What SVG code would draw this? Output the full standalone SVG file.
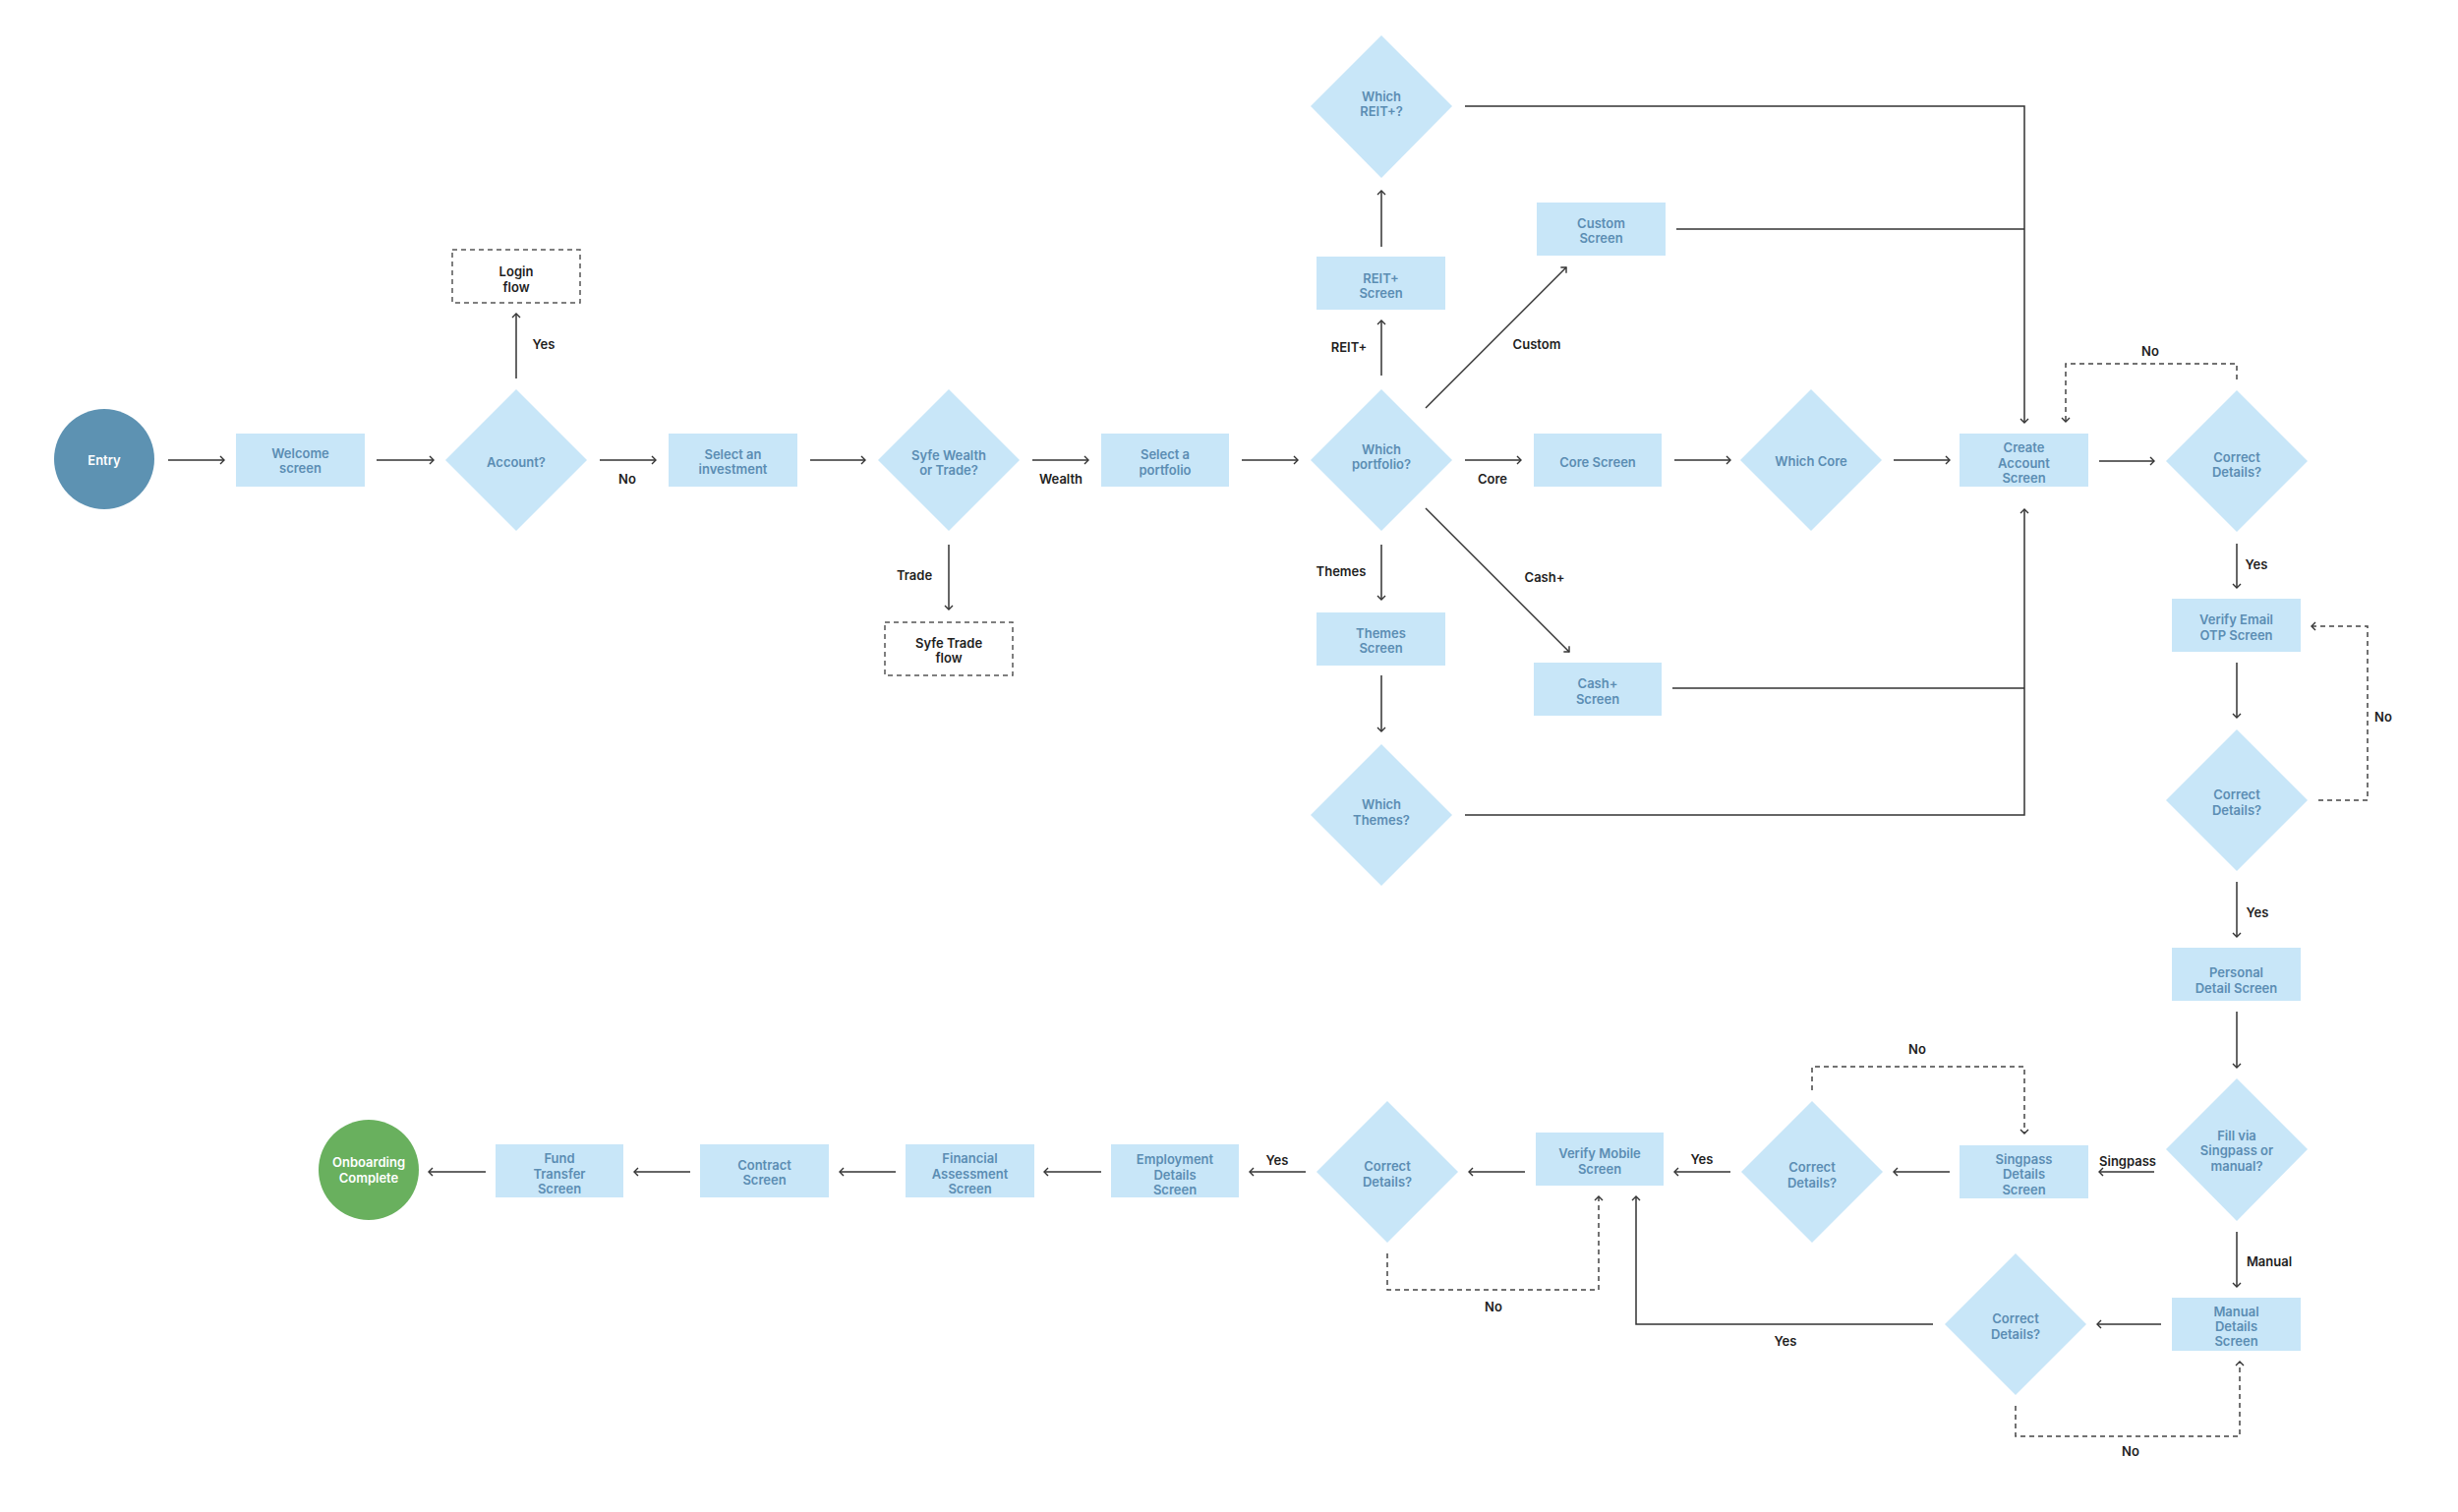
<svg xmlns="http://www.w3.org/2000/svg" width="2500" height="1538" viewBox="0 0 2500 1538">
<style>
.box{fill:#c8e6f8}
.dia{fill:#c8e6f8}
.dash{fill:none;stroke:#555;stroke-width:1.5;stroke-dasharray:5 4}
.nt{font-family:Inter,"Liberation Sans",sans-serif;font-size:13px;font-weight:600;fill:#5b8db3;text-anchor:middle}
.dt{font-family:Inter,"Liberation Sans",sans-serif;font-size:13px;font-weight:600;fill:#1e1e1e;text-anchor:middle}
.wt{font-family:Inter,"Liberation Sans",sans-serif;font-size:13px;font-weight:600;fill:#ffffff;text-anchor:middle}
.lt{font-family:Inter,"Liberation Sans",sans-serif;font-size:13px;font-weight:600;fill:#1e1e1e;text-anchor:middle}
.c{fill:none;stroke:#333;stroke-width:1.5}
.cd{fill:none;stroke:#444;stroke-width:1.5;stroke-dasharray:5 4}
</style>
<defs>
<marker id="arr" viewBox="0 0 10 10" refX="9" refY="5" markerWidth="10" markerHeight="10" markerUnits="userSpaceOnUse" orient="auto">
<path d="M5,1 L9,5 L5,9" fill="none" stroke="#333" stroke-width="1.4"/>
</marker>
</defs>
<rect width="2500" height="1538" fill="#ffffff"/>

<g id="connectors">
<path class="c" marker-end="url(#arr)" d="M171,468 L228,468"/>
<path class="c" marker-end="url(#arr)" d="M383,468 L441,468"/>
<path class="c" marker-end="url(#arr)" d="M525,385 L525,319"/>
<path class="c" marker-end="url(#arr)" d="M610,468 L667,468"/>
<path class="c" marker-end="url(#arr)" d="M824,468 L880,468"/>
<path class="c" marker-end="url(#arr)" d="M965,554 L965,620"/>
<path class="c" marker-end="url(#arr)" d="M1050,468 L1107,468"/>
<path class="c" marker-end="url(#arr)" d="M1263,468 L1320,468"/>
<path class="c" marker-end="url(#arr)" d="M1405,382 L1405,326"/>
<path class="c" marker-end="url(#arr)" d="M1405,251 L1405,194"/>
<path class="c" marker-end="url(#arr)" d="M1450,415 L1593,272"/>
<path class="c" marker-end="url(#arr)" d="M1490,468 L1547,468"/>
<path class="c" marker-end="url(#arr)" d="M1450,517 L1596,663"/>
<path class="c" marker-end="url(#arr)" d="M1405,554 L1405,610"/>
<path class="c" marker-end="url(#arr)" d="M1405,687 L1405,744"/>
<path class="c" marker-end="url(#arr)" d="M1703,468 L1760,468"/>
<path class="c" marker-end="url(#arr)" d="M1926,468 L1983,468"/>
<path class="c" marker-end="url(#arr)" d="M1490,108 L2059,108 L2059,430"/>
<path class="c" d="M1705,233 L2059,233"/>
<path class="c" marker-end="url(#arr)" d="M1490,829 L2059,829 L2059,518"/>
<path class="c" d="M1701,700 L2059,700"/>
<path class="c" marker-end="url(#arr)" d="M2135,469 L2191,469"/>
<path class="cd" marker-end="url(#arr)" d="M2275,386 L2275,370 L2101,370 L2101,429"/>
<path class="c" marker-end="url(#arr)" d="M2275,553 L2275,598"/>
<path class="c" marker-end="url(#arr)" d="M2275,674 L2275,730"/>
<path class="cd" marker-end="url(#arr)" d="M2358,814 L2408,814 L2408,637 L2351,637"/>
<path class="c" marker-end="url(#arr)" d="M2275,897 L2275,953"/>
<path class="c" marker-end="url(#arr)" d="M2275,1029 L2275,1086"/>
<path class="c" marker-end="url(#arr)" d="M2191,1192 L2135,1192"/>
<path class="c" marker-end="url(#arr)" d="M2275,1253 L2275,1309"/>
<path class="c" marker-end="url(#arr)" d="M2198,1347 L2133,1347"/>
<path class="cd" marker-end="url(#arr)" d="M2050,1430 L2050,1461 L2278,1461 L2278,1385"/>
<path class="c" marker-end="url(#arr)" d="M1983,1192 L1926,1192"/>
<path class="cd" marker-end="url(#arr)" d="M1843,1109 L1843,1085 L2059,1085 L2059,1153"/>
<path class="c" marker-end="url(#arr)" d="M1760,1192 L1703,1192"/>
<path class="c" marker-end="url(#arr)" d="M1966,1347 L1664,1347 L1664,1217"/>
<path class="c" marker-end="url(#arr)" d="M1551,1192 L1494,1192"/>
<path class="cd" marker-end="url(#arr)" d="M1411,1275 L1411,1312 L1626,1312 L1626,1217"/>
<path class="c" marker-end="url(#arr)" d="M1328,1192 L1271,1192"/>
<path class="c" marker-end="url(#arr)" d="M1120,1192 L1062,1192"/>
<path class="c" marker-end="url(#arr)" d="M911,1192 L854,1192"/>
<path class="c" marker-end="url(#arr)" d="M702,1192 L645,1192"/>
<path class="c" marker-end="url(#arr)" d="M494,1192 L436,1192"/>
<text class="lt" x="553" y="354.6">Yes</text>
<text class="lt" x="638" y="491.6">No</text>
<text class="lt" x="1079" y="491.6">Wealth</text>
<text class="lt" x="930" y="589.6">Trade</text>
<text class="lt" x="1372" y="357.6">REIT+</text>
<text class="lt" x="1563" y="354.6">Custom</text>
<text class="lt" x="1518" y="491.6">Core</text>
<text class="lt" x="1364" y="585.6">Themes</text>
<text class="lt" x="1571" y="591.6">Cash+</text>
<text class="lt" x="2187" y="361.6">No</text>
<text class="lt" x="2295" y="578.6">Yes</text>
<text class="lt" x="2424" y="733.6">No</text>
<text class="lt" x="2296" y="932.6">Yes</text>
<text class="lt" x="1950" y="1071.6">No</text>
<text class="lt" x="2164" y="1185.6">Singpass</text>
<text class="lt" x="2308" y="1287.6">Manual</text>
<text class="lt" x="2167" y="1480.6">No</text>
<text class="lt" x="1731" y="1183.6">Yes</text>
<text class="lt" x="1519" y="1333.6">No</text>
<text class="lt" x="1816" y="1368.6">Yes</text>
<text class="lt" x="1299" y="1184.6">Yes</text>
</g>

<g id="entry"><circle cx="106" cy="467" r="51" fill="#5d92b2"/><text class="wt" x="106" y="472.6">Entry</text></g>
<g id="welcome"><rect class="box" x="240" y="441" width="131" height="54"/><text class="nt" x="305.5" y="466">Welcome<tspan x="305.5" dy="15.3">screen</tspan></text></g>
<g id="account"><polygon class="dia" points="525,396 597,468 525,540 453,468"/><text class="nt" x="525" y="474.6">Account?</text></g>
<g id="login"><rect class="dash" x="460" y="254" width="130" height="54"/><text class="dt" x="525" y="281.2">Login<tspan x="525" dy="15.3">flow</tspan></text></g>
<g id="select-investment"><rect class="box" x="680" y="441" width="131" height="54"/><text class="nt" x="745.5" y="466.8">Select an<tspan x="745.5" dy="15.3">investment</tspan></text></g>
<g id="wealth-or-trade"><polygon class="dia" points="965,396 1037,468 965,540 893,468"/><text class="nt" x="965" y="467.6">Syfe Wealth<tspan x="965" dy="15.3">or Trade?</tspan></text></g>
<g id="trade-flow"><rect class="dash" x="900" y="633" width="130" height="54"/><text class="dt" x="965" y="658.9">Syfe Trade<tspan x="965" dy="15.3">flow</tspan></text></g>
<g id="select-portfolio"><rect class="box" x="1120" y="441" width="130" height="54"/><text class="nt" x="1185" y="467.3">Select a<tspan x="1185" dy="15.3">portfolio</tspan></text></g>
<g id="which-portfolio"><polygon class="dia" points="1405,396 1477,468 1405,540 1333,468"/><text class="nt" x="1405" y="462.1">Which<tspan x="1405" dy="15.3">portfolio?</tspan></text></g>
<g id="reit-screen"><rect class="box" x="1339" y="261" width="131" height="54"/><text class="nt" x="1404.5" y="287.6">REIT+<tspan x="1404.5" dy="15.3">Screen</tspan></text></g>
<g id="which-reit"><polygon class="dia" points="1405,36 1477,108 1405,181 1333,108"/><text class="nt" x="1405" y="102.9">Which<tspan x="1405" dy="15.3">REIT+?</tspan></text></g>
<g id="custom-screen"><rect class="box" x="1563" y="206" width="131" height="54"/><text class="nt" x="1628.5" y="231.9">Custom<tspan x="1628.5" dy="15.3">Screen</tspan></text></g>
<g id="core-screen"><rect class="box" x="1560" y="441" width="130" height="54"/><text class="nt" x="1625" y="474.6">Core Screen</text></g>
<g id="which-core"><polygon class="dia" points="1842,396 1914,468 1842,540 1770,468"/><text class="nt" x="1842" y="474.2">Which Core</text></g>
<g id="themes-screen"><rect class="box" x="1339" y="623" width="131" height="54"/><text class="nt" x="1404.5" y="648.9">Themes<tspan x="1404.5" dy="15.3">Screen</tspan></text></g>
<g id="cash-screen"><rect class="box" x="1560" y="674" width="130" height="54"/><text class="nt" x="1625" y="700.4">Cash+<tspan x="1625" dy="15.3">Screen</tspan></text></g>
<g id="which-themes"><polygon class="dia" points="1405,757 1477,829 1405,901 1333,829"/><text class="nt" x="1405" y="823.2">Which<tspan x="1405" dy="15.3">Themes?</tspan></text></g>
<g id="create-account"><rect class="box" x="1993" y="441" width="131" height="54"/><text class="nt" x="2058.5" y="460.4">Create<tspan x="2058.5" dy="15.3">Account</tspan><tspan x="2058.5" dy="15.3">Screen</tspan></text></g>
<g id="correct-1"><polygon class="dia" points="2275,397 2347,469 2275,541 2203,469"/><text class="nt" x="2275" y="469.7">Correct<tspan x="2275" dy="15.3">Details?</tspan></text></g>
<g id="verify-email"><rect class="box" x="2209" y="609" width="131" height="54"/><text class="nt" x="2274.5" y="635.2">Verify Email<tspan x="2274.5" dy="15.3">OTP Screen</tspan></text></g>
<g id="correct-2"><polygon class="dia" points="2275,742 2347,814 2275,886 2203,814"/><text class="nt" x="2275" y="813.4">Correct<tspan x="2275" dy="15.3">Details?</tspan></text></g>
<g id="personal-detail"><rect class="box" x="2209" y="964" width="131" height="54"/><text class="nt" x="2274.5" y="994.4">Personal<tspan x="2274.5" dy="15.3">Detail Screen</tspan></text></g>
<g id="fill-via"><polygon class="dia" points="2275,1097 2347,1169 2275,1242 2203,1169"/><text class="nt" x="2275" y="1159.9">Fill via<tspan x="2275" dy="15.3">Singpass or</tspan><tspan x="2275" dy="15.3">manual?</tspan></text></g>
<g id="singpass-details"><rect class="box" x="1993" y="1165" width="131" height="54"/><text class="nt" x="2058.5" y="1184">Singpass<tspan x="2058.5" dy="15.3">Details</tspan><tspan x="2058.5" dy="15.3">Screen</tspan></text></g>
<g id="manual-details"><rect class="box" x="2209" y="1320" width="131" height="54"/><text class="nt" x="2274.5" y="1338.7">Manual<tspan x="2274.5" dy="15.3">Details</tspan><tspan x="2274.5" dy="15.3">Screen</tspan></text></g>
<g id="correct-4"><polygon class="dia" points="2050,1275 2122,1347 2050,1419 1978,1347"/><text class="nt" x="2050" y="1346.4">Correct<tspan x="2050" dy="15.3">Details?</tspan></text></g>
<g id="correct-3"><polygon class="dia" points="1843,1120 1915,1192 1843,1264 1771,1192"/><text class="nt" x="1843" y="1192.2">Correct<tspan x="1843" dy="15.3">Details?</tspan></text></g>
<g id="verify-mobile"><rect class="box" x="1562" y="1152" width="130" height="54"/><text class="nt" x="1627" y="1178.2">Verify Mobile<tspan x="1627" dy="15.3">Screen</tspan></text></g>
<g id="correct-5"><polygon class="dia" points="1411,1120 1483,1192 1411,1264 1339,1192"/><text class="nt" x="1411" y="1191.2">Correct<tspan x="1411" dy="15.3">Details?</tspan></text></g>
<g id="employment"><rect class="box" x="1130" y="1164" width="130" height="54"/><text class="nt" x="1195" y="1184.4">Employment<tspan x="1195" dy="15.3">Details</tspan><tspan x="1195" dy="15.3">Screen</tspan></text></g>
<g id="financial"><rect class="box" x="921" y="1164" width="131" height="54"/><text class="nt" x="986.5" y="1183.4">Financial<tspan x="986.5" dy="15.3">Assessment</tspan><tspan x="986.5" dy="15.3">Screen</tspan></text></g>
<g id="contract"><rect class="box" x="712" y="1164" width="131" height="54"/><text class="nt" x="777.5" y="1189.9">Contract<tspan x="777.5" dy="15.3">Screen</tspan></text></g>
<g id="fund-transfer"><rect class="box" x="504" y="1164" width="130" height="54"/><text class="nt" x="569" y="1183.4">Fund<tspan x="569" dy="15.3">Transfer</tspan><tspan x="569" dy="15.3">Screen</tspan></text></g>
<g id="onboarding-complete"><circle cx="375" cy="1190" r="51" fill="#69b05e"/><text class="wt" x="375" y="1187.2">Onboarding<tspan x="375" dy="15.3">Complete</tspan></text></g>
</svg>
